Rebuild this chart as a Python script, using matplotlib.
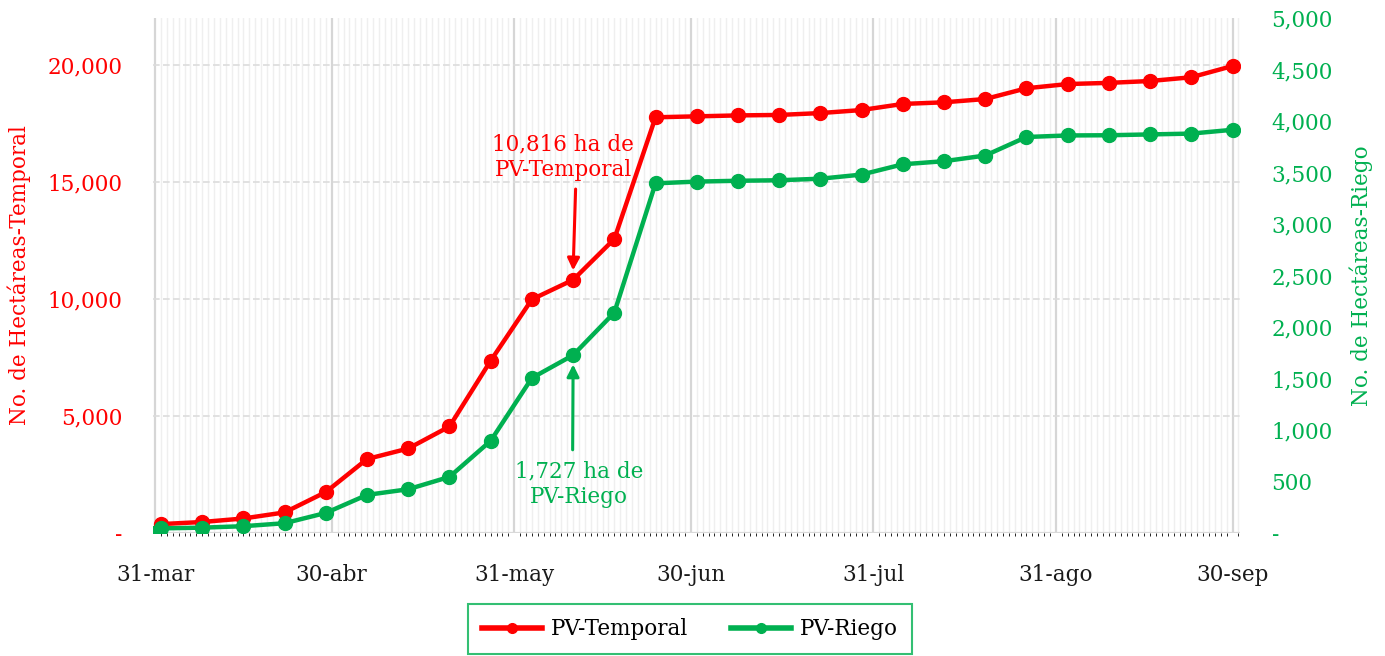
import numpy as np
import matplotlib as mpl
import matplotlib.pyplot as plt
import matplotlib.dates as mdates
from matplotlib.ticker import FixedLocator, FuncFormatter

mpl.rcParams['font.family'] = 'DejaVu Serif'

# weekly cumulative hectares, 31-mar .. 30-sep
fechas = np.array(['2021-03-31', '2021-04-01', '2021-04-08', '2021-04-15', '2021-04-22',
                   '2021-04-29', '2021-05-06', '2021-05-13', '2021-05-20', '2021-05-27',
                   '2021-06-03', '2021-06-10', '2021-06-17', '2021-06-24', '2021-07-01',
                   '2021-07-08', '2021-07-15', '2021-07-22', '2021-07-29', '2021-08-05',
                   '2021-08-12', '2021-08-19', '2021-08-26', '2021-09-02', '2021-09-09',
                   '2021-09-16', '2021-09-23', '2021-09-30'], dtype='datetime64[D]')
temporal = [0, 380, 470, 620, 880, 1750, 3160, 3610, 4550, 7360, 9980, 10816, 12560,
            17760, 17800, 17840, 17860, 17940, 18070, 18330, 18400, 18540, 19000,
            19180, 19230, 19310, 19470, 19950]
riego = [0, 45, 52, 66, 95, 195, 370, 425, 545, 895, 1505, 1727, 2140, 3395, 3412,
         3420, 3425, 3440, 3480, 3580, 3610, 3665, 3845, 3860, 3862, 3870, 3878, 3915]

xticks = np.array(['2021-03-31', '2021-04-30', '2021-05-31', '2021-06-30',
                   '2021-07-31', '2021-08-31', '2021-09-30'], dtype='datetime64[D]')
xlabels = ['31-mar', '30-abr', '31-may', '30-jun', '31-jul', '31-ago', '30-sep']

ROJO = '#ff0000'
VERDE = '#00b050'
FS = 15.5


def miles(v, pos):
    if v == 0:
        return '-'
    return '{:,.0f}'.format(v)


fig = plt.figure(figsize=(13.85, 6.56), dpi=100)
ax = fig.add_axes([0.1105, 0.1875, 0.7845, 0.785])
ax2 = ax.twinx()

x = mdates.date2num(fechas)
xt = mdates.date2num(xticks)

ax.set_xlim(xt[0] - 0.35, xt[-1] + 1.2)
ax.set_ylim(0, 22000)
ax2.set_ylim(0, 5000)

# grids
ax.xaxis.set_minor_locator(mdates.DayLocator())
ax.set_xticks(xt)
ax.set_xticklabels(xlabels)
ax.grid(which='minor', axis='x', color='#efefef', lw=1.0)
ax.grid(which='major', axis='x', color='#d6d6d6', lw=1.6)
ax.yaxis.set_major_locator(FixedLocator([0, 5000, 10000, 15000, 20000]))
ax.grid(which='major', axis='y', color='#dcdcdc', lw=1.2, ls=(0, (4, 2)))
ax.set_axisbelow(True)
ax.axhline(0, color='#d9d9d9', lw=1.6, zorder=1)

ax2.yaxis.set_major_locator(FixedLocator(np.arange(0, 5001, 500)))

ax.yaxis.set_major_formatter(FuncFormatter(miles))
ax2.yaxis.set_major_formatter(FuncFormatter(miles))

for a in (ax, ax2):
    for s in a.spines.values():
        s.set_visible(False)
    a.tick_params(length=0)

ax.tick_params(axis='x', labelsize=FS, colors='#1a1a1a', pad=22)
ax.tick_params(axis='y', labelsize=FS, colors=ROJO, pad=22)
ax2.tick_params(axis='y', labelsize=FS, colors=VERDE, pad=23)

l1, = ax.plot(x, temporal, color=ROJO, lw=3.2, marker='o', ms=10, label='PV-Temporal')
l2, = ax2.plot(x, riego, color=VERDE, lw=3.2, marker='o', ms=10, label='PV-Riego')

ax.set_ylabel('No. de Hectáreas-Temporal', color=ROJO, fontsize=FS, labelpad=12)
ax2.set_ylabel('No. de Hectáreas-Riego', color=VERDE, fontsize=FS, labelpad=12)

# annotations for 10-jun
xa = x[11]
ax.annotate('10,816 ha de\nPV-Temporal', xy=(xa, temporal[11] + 400), xytext=(xa - 1.7, 15050),
            ha='center', va='bottom', color=ROJO, fontsize=FS, linespacing=1.2,
            arrowprops=dict(arrowstyle='-|>', color=ROJO, lw=2.2, mutation_scale=18,
                            shrinkA=4, shrinkB=0, relpos=(0.59, 0)))
ax2.annotate('1,727 ha de\nPV-Riego', xy=(xa, riego[11] - 90), xytext=(xa + 1.0, 700),
             ha='center', va='top', color=VERDE, fontsize=FS, linespacing=1.2,
             arrowprops=dict(arrowstyle='-|>', color=VERDE, lw=2.2, mutation_scale=18,
                             shrinkA=6, shrinkB=0, relpos=(0.45, 1)))

leg = fig.legend(handles=[l1, l2], loc='center', bbox_to_anchor=(0.498, 0.041), ncol=2,
                 fontsize=FS, frameon=True, fancybox=False, edgecolor=VERDE,
                 handlelength=2.8, columnspacing=2.0, borderpad=0.65, markerscale=0.7,
                 borderaxespad=0, handletextpad=0.4)
leg.get_frame().set_linewidth(1.5)
for h in leg.get_lines():
    h.set_linewidth(4)

fig.savefig('out.png', dpi=100)
